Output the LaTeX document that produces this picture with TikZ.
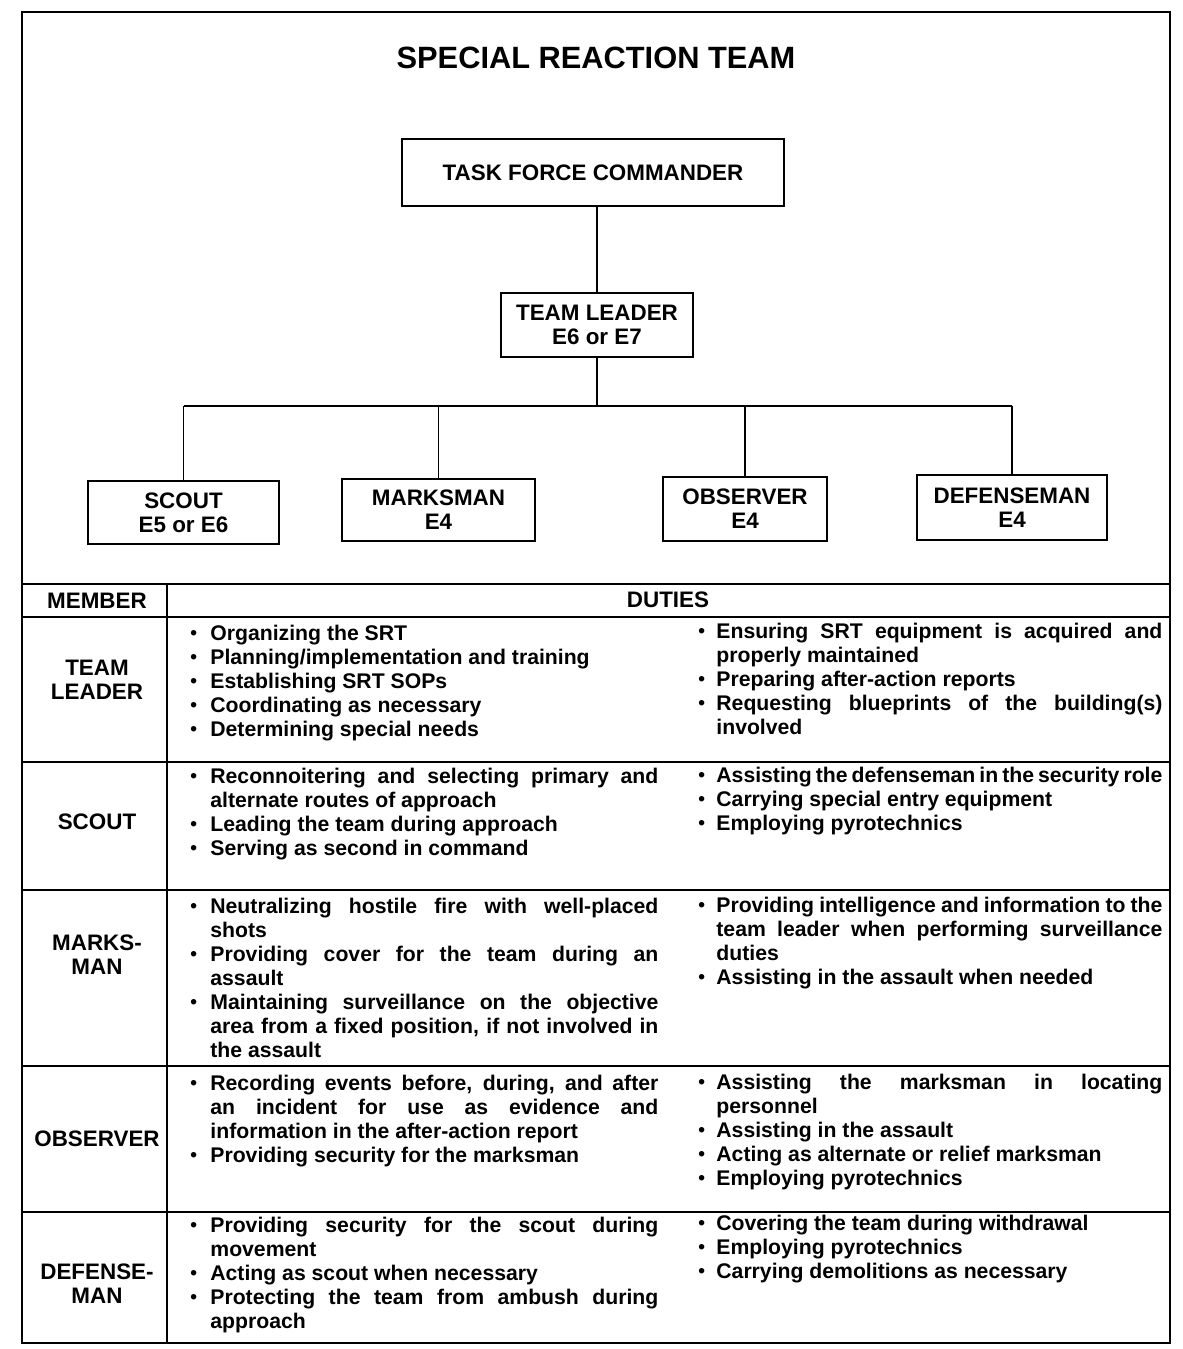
\documentclass[tikz,border=0pt]{standalone}
\usepackage{fontspec}
\setmainfont{Liberation Sans}
\newcommand\LabFont{\bfseries\fontsize{11.2}{12}\selectfont}
\newcommand\BodyFont{\bfseries\fontsize{10.6}{12}\selectfont}
\newcommand\TitleFont{\bfseries\fontsize{15.4}{18}\selectfont}
\newlength\bind \newlength\colw
\newcommand\Dot{\raisebox{0.05ex}{\scalebox{0.9}{\textbullet}}}
\newcommand\BJ[1]{\hbox{\hbox to\bind{\Dot\hfil}\hbox to\colw{#1}}}
\newcommand\BL[1]{\hbox{\hbox to\bind{\Dot\hfil}#1}}
\newcommand\CJ[1]{\hbox{\hskip\bind\hbox to\colw{#1}}}
\newcommand\CL[1]{\hbox{\hskip\bind #1}}
\newcommand\LeftCell[1]{\vtop{\setlength\bind{10pt}\setlength\colw{224pt}\baselineskip=12pt\lineskiplimit=-20pt #1}}
\newcommand\RightCell[1]{\vtop{\setlength\bind{9pt}\setlength\colw{223pt}\baselineskip=12pt\lineskiplimit=-20pt #1}}
\begin{document}
\begin{tikzpicture}[x=0.5pt,y=-0.5pt,
  frameline/.style={line width=1pt},
  orgbox/.style={draw, line width=0.9pt, align=center, inner sep=0pt, font=\LabFont},
  conn/.style={line width=0.9pt},
  lab/.style={font=\LabFont, align=center, inner sep=0pt},
  cell/.style={inner sep=0pt, anchor=base west, font=\BodyFont}]
\useasboundingbox (0,0) rectangle (1183,1349);

% outer frame and table rules
\draw[frameline] (22,12) rectangle (1170,1343);
\draw[frameline] (22,584) -- (1170,584);
\draw[frameline] (22,617) -- (1170,617);
\draw[frameline] (22,762) -- (1170,762);
\draw[frameline] (22,890) -- (1170,890);
\draw[frameline] (22,1066) -- (1170,1066);
\draw[frameline] (22,1212) -- (1170,1212);
\draw[frameline] (167,584) -- (167,1343);

% title
\node[lab, font=\TitleFont] (title) at (596,58) {SPECIAL REACTION TEAM};

% organisation chart
\node[orgbox, minimum width=191pt, minimum height=33.5pt] (tfc) at (593,172.5) {TASK FORCE COMMANDER};
\node[orgbox, minimum width=96pt, minimum height=32pt] (tl) at (597,325) {TEAM LEADER\\E6 or E7};
\node[orgbox, minimum width=95.5pt, minimum height=31.5pt] (scout) at (183.5,512.5) {SCOUT\\E5 or E6};
\node[orgbox, minimum width=96.5pt, minimum height=31pt] (mark) at (438.5,510) {MARKSMAN\\E4};
\node[orgbox, minimum width=82pt, minimum height=32pt] (obs) at (745,509) {OBSERVER\\E4};
\node[orgbox, minimum width=95pt, minimum height=32.5pt] (def) at (1012,507.5) {DEFENSEMAN\\E4};

\coordinate (bus) at (597,406);
\draw[conn] (tl.north) -- (tl.north |- tfc.south);
\draw[conn] (tl.south) -- (bus);
\draw[conn] (scout.north |- bus) -- (def.north |- bus);
\foreach \c in {scout,mark,obs,def} \draw[conn] (\c.north) -- (\c.north |- bus);

% table header
\node[lab] (hmember) at (97,601) {MEMBER};
\node[lab] (hduties) at (668,600) {DUTIES};

% member labels
\node[lab] (mtl) at (97,680) {TEAM\\LEADER};
\node[lab] (msc) at (97,822) {SCOUT};
\node[lab] (mmk) at (97,955) {MARKS-\\MAN};
\node[lab] (mob) at (97,1139) {OBSERVER};
\node[lab] (mdf) at (97,1284) {DEFENSE-\\MAN};

% duties: team leader
\node[cell] (tlL) at (190,640) {\LeftCell{%
\BL{Organizing the SRT}
\BL{Planning/implementation and training}
\BL{Establishing SRT SOPs}
\BL{Coordinating as necessary}
\BL{Determining special needs}}};
\node[cell] (tlR) at (698,638) {\RightCell{%
\BJ{Ensuring SRT equipment is acquired and}
\CL{properly maintained}
\BL{Preparing after-action reports}
\BJ{Requesting blueprints of the building(s)}
\CL{involved}}};

% duties: scout
\node[cell] (scL) at (190,783) {\LeftCell{%
\BJ{Reconnoitering and selecting primary and}
\CL{alternate routes of approach}
\BL{Leading the team during approach}
\BL{Serving as second in command}}};
\node[cell] (scR) at (698,782) {\RightCell{%
\BJ{Assisting the defenseman in the security role}
\BL{Carrying special entry equipment}
\BL{Employing pyrotechnics}}};

% duties: marksman
\node[cell] (mkL) at (190,913) {\LeftCell{%
\BJ{Neutralizing hostile fire with well-placed}
\CL{shots}
\BJ{Providing cover for the team during an}
\CL{assault}
\BJ{Maintaining surveillance on the objective}
\CJ{area from a fixed position, if not involved in}
\CL{the assault}}};
\node[cell] (mkR) at (698,912) {\RightCell{%
\BJ{Providing intelligence and information to the}
\CJ{team leader when performing surveillance}
\CL{duties}
\BL{Assisting in the assault when needed}}};

% duties: observer
\node[cell] (obL) at (190,1090) {\LeftCell{%
\BJ{Recording events before, during, and after}
\CJ{an incident for use as evidence and}
\CL{information in the after-action report}
\BL{Providing security for the marksman}}};
\node[cell] (obR) at (698,1089) {\RightCell{%
\BJ{Assisting the marksman in locating}
\CL{personnel}
\BL{Assisting in the assault}
\BL{Acting as alternate or relief marksman}
\BL{Employing pyrotechnics}}};

% duties: defenseman
\node[cell] (dfL) at (190,1232) {\LeftCell{%
\BJ{Providing security for the scout during}
\CL{movement}
\BL{Acting as scout when necessary}
\BJ{Protecting the team from ambush during}
\CL{approach}}};
\node[cell] (dfR) at (698,1230) {\RightCell{%
\BL{Covering the team during withdrawal}
\BL{Employing pyrotechnics}
\BL{Carrying demolitions as necessary}}};
\end{tikzpicture}
\end{document}
